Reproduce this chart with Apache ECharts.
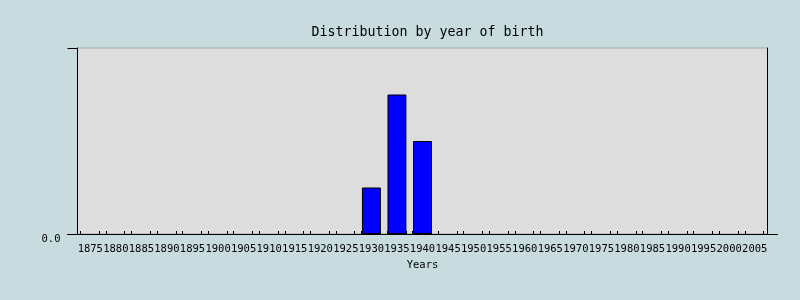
<!DOCTYPE html>
<html>
<head>
<meta charset="utf-8">
<script src="https://cdn.jsdelivr.net/npm/echarts@6/dist/echarts.min.js"></script>
<style>html,body{margin:0;padding:0;background:#c8dcdf;}#c{width:800px;height:300px;}</style>
</head>
<body>
<div id="c"></div>
<script>
const years = ['1875','1880','1885','1890','1895','1900','1905','1910','1915','1920','1925','1930','1935','1940','1945','1950','1955','1960','1965','1970','1975','1980','1985','1990','1995','2000','2005'];
const counts = [0,0,0,0,0,0,0,0,0,0,0,1,3,2,0,0,0,0,0,0,0,0,0,0,0,0,0];
const yTickLabels = {0: '0.0', 4: ''};
const yMax = 4;

const font = 'DejaVu Sans Mono';
const L = 77.5, W = 690, T = 48, H = 186;
const bin = W / years.length;
const chart = echarts.init(document.getElementById('c'), null, {renderer: 'canvas'});
chart.setOption({
  backgroundColor: '#c8dcdf',
  animation: false,
  title: {
    text: 'Distribution by year of birth',
    left: L + W / 2, top: 21, textAlign: 'center',
    textStyle: {fontFamily: font, fontSize: 13.3, fontWeight: 'normal', color: '#000'}
  },
  grid: [
    {left: L, top: T, width: W, height: H, show: true, backgroundColor: '#dddddd', borderColor: '#aaaaaa', borderWidth: 1},
    {left: L - 10, top: T, width: W + 20, height: H},
    {left: L + 2.9, top: T, width: bin * (years.length - 1), height: H},
    {left: L + 21.6, top: T, width: bin * (years.length - 1), height: H}
  ],
  xAxis: [
    {type: 'category', gridIndex: 0, data: years,
     axisLine: {show: false}, axisTick: {show: false},
     axisLabel: {interval: 0, fontFamily: font, fontSize: 10.5, color: '#000', margin: 10},
     name: 'Years', nameLocation: 'middle', nameGap: 24,
     nameTextStyle: {fontFamily: font, fontSize: 10.5, color: '#000'}},
    {type: 'value', gridIndex: 1, min: 0, max: 1, axisLine: {show: true, lineStyle: {color: '#000', width: 1}},
     axisTick: {show: false}, axisLabel: {show: false}, splitLine: {show: false}},
    {type: 'value', gridIndex: 2, min: 0, max: years.length - 1, interval: 1, axisLine: {show: false},
     axisTick: {show: true, inside: true, length: 3, lineStyle: {color: '#000'}}, axisLabel: {show: false}, splitLine: {show: false}},
    {type: 'value', gridIndex: 3, min: 0, max: years.length - 1, interval: 1, axisLine: {show: false},
     axisTick: {show: true, inside: true, length: 3, lineStyle: {color: '#000'}}, axisLabel: {show: false}, splitLine: {show: false}}
  ],
  yAxis: [
    {type: 'value', gridIndex: 0, min: 0, max: yMax, interval: yMax,
     axisLine: {show: true, lineStyle: {color: '#000', width: 1}},
     axisTick: {show: true, length: 10, lineStyle: {color: '#000'}},
     axisLabel: {fontFamily: font, fontSize: 10.5, color: '#000', margin: 17, verticalAlign: 'top',
                 formatter: v => yTickLabels[v] !== undefined ? yTickLabels[v] : ''},
     splitLine: {show: false}},
    {type: 'value', gridIndex: 0, position: 'right', min: 0, max: yMax,
     axisLine: {show: true, lineStyle: {color: '#000', width: 1}},
     axisTick: {show: false}, axisLabel: {show: false}, splitLine: {show: false}},
    {type: 'value', gridIndex: 1, show: false},
    {type: 'value', gridIndex: 2, show: false},
    {type: 'value', gridIndex: 3, show: false}
  ],
  series: [{
    type: 'bar', xAxisIndex: 0, yAxisIndex: 0,
    data: counts.map(v => v === 0 ? {value: v, itemStyle: {borderWidth: 0, opacity: 0}} : v),
    barWidth: '74%',
    itemStyle: {color: '#0000ff', borderColor: '#000', borderWidth: 1}
  }]
});
</script>
</body>
</html>
